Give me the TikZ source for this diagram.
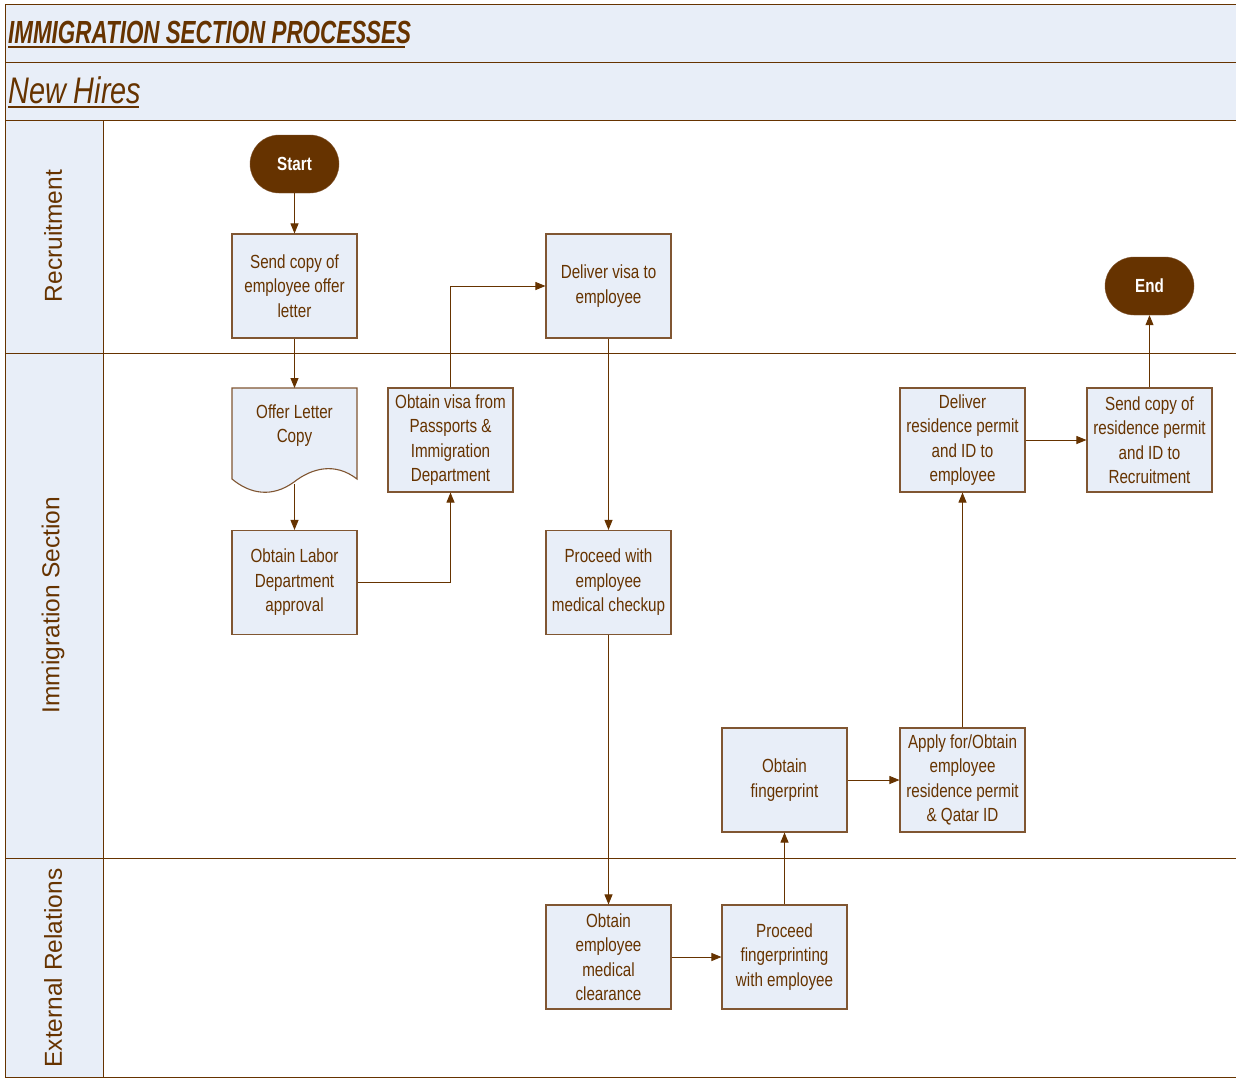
\documentclass[tikz,border=0pt]{standalone}
\usepackage{fontspec}
\setmainfont{Liberation Sans}
\newfontfamily\condf[FakeStretch=0.8]{Liberation Sans}
\newfontfamily\titlef[FakeStretch=0.7]{Liberation Sans}
\newfontfamily\subf[FakeStretch=0.78]{Liberation Sans}
\usetikzlibrary{arrows.meta}
\definecolor{bdr}{RGB}{128,86,50}
\definecolor{dark}{RGB}{102,51,0}
\definecolor{lfill}{RGB}{232,238,248}
\tikzset{
  procbox/.style={draw=bdr, line width=1.1pt, fill=lfill, minimum width=125pt, minimum height=104pt, inner sep=0pt, align=center, text=dark, font=\condf\fontsize{19}{24.5}\selectfont},
  term/.style={draw=bdr, fill=dark, rounded corners=29pt, minimum width=89pt, minimum height=58pt, inner sep=0pt, text=white, font=\condf\bfseries\fontsize{19}{22}\selectfont},
  txt/.style={inner sep=0pt, align=center, text=dark, font=\condf\fontsize{19}{24.5}\selectfont},
  lanelbl/.style={rotate=90, inner sep=0pt, text=dark, font=\fontsize{24.5}{28}\selectfont},
  conn/.style={draw=dark, line width=0.9pt, -{Triangle[length=10pt,width=8pt]}},
  frame/.style={draw=dark, line width=1pt}
}
\begin{document}
\begin{tikzpicture}[x=1pt,y=-1pt]
\useasboundingbox (0,0) rectangle (1236,1079);
% backgrounds
\fill[white] (0,0) rectangle (1236,1079);
\fill[lfill] (5,4) rectangle (1236,120);
\fill[lfill] (5,120) rectangle (103,1077);
% frame lines
\draw[frame] (1236,4) -- (5,4) -- (5,1077) -- (1236,1077);
\draw[frame] (5,62) -- (1236,62);
\draw[frame] (5,120) -- (1236,120);
\draw[frame] (5,353) -- (1236,353);
\draw[frame] (5,858) -- (1236,858);
\draw[frame] (103,120) -- (103,1077);
% titles
\node[anchor=base west, inner sep=0pt, text=dark, font=\titlef\bfseries\itshape\fontsize{32}{35}\selectfont] (title) at (8,43) {IMMIGRATION SECTION PROCESSES};
\draw[dark, line width=2pt] (8,46.5) -- (405,46.5);
\node[anchor=base west, inner sep=0pt, text=dark, font=\subf\itshape\fontsize{37}{40}\selectfont] (sub) at (8,103) {New Hires};
\draw[dark, line width=1.6pt] (8,107) -- (139,107);
% lane labels
\node[lanelbl] (l1) at (53,236) {Recruitment};
\node[lanelbl] (l2) at (53,605) {Immigration Section};
\node[lanelbl] (l3) at (53,968) {External Relations};
% nodes
\node[term] (start) at (294.5,164) {Start};
\node[procbox] (send) at (294.5,286) {Send copy of\\employee offer\\letter};
% document shape
\draw[draw=bdr, line width=1.1pt, fill=lfill] (232,388) -- (357,388) -- (357,479)
  .. controls (335,462) and (312,468) .. (294,482)
  .. controls (272,498) and (250,494) .. (232,479) -- cycle;
\node[txt] (offer) at (294.5,425.5) {Offer Letter\\Copy};
\coordinate (offerbot) at (294.5,484);
\node[procbox] (labor) at (294.5,582.5) {Obtain Labor\\Department\\approval};
\node[procbox] (visa) at (450.5,440) {Obtain visa from\\Passports \&\\Immigration\\Department};
\node[procbox] (deliv) at (608.5,286) {Deliver visa to\\employee};
\node[procbox] (med) at (608.5,582.5) {Proceed with\\employee\\medical checkup};
\node[procbox] (clear) at (608.5,957) {Obtain\\employee\\medical\\clearance};
\node[procbox] (fingp) at (784.5,957) {Proceed\\fingerprinting\\with employee};
\node[procbox] (fing) at (784.5,780) {Obtain\\fingerprint};
\node[procbox] (apply) at (962.5,780) {Apply for/Obtain\\employee\\residence permit\\\& Qatar ID};
\node[procbox] (delres) at (962.5,440) {Deliver\\residence permit\\and ID to\\employee};
\node[procbox] (sendres) at (1149.5,440) {Send copy of\\residence permit\\and ID to\\Recruitment};
\node[term] (end) at (1149.5,286) {End};
% connectors
\draw[conn] (start) -- (send);
\draw[conn] (send.south) -- (294.5,388);
\draw[conn] (offerbot) -- (labor.north);
\draw[conn] (labor.east) -| (visa.south);
\draw[conn] (visa.north) |- (deliv.west);
\draw[conn] (deliv) -- (med);
\draw[conn] (med) -- (clear);
\draw[conn] (clear) -- (fingp);
\draw[conn] (fingp) -- (fing);
\draw[conn] (fing) -- (apply);
\draw[conn] (apply) -- (delres);
\draw[conn] (delres) -- (sendres);
\draw[conn] (sendres) -- (end);
\end{tikzpicture}
\end{document}
